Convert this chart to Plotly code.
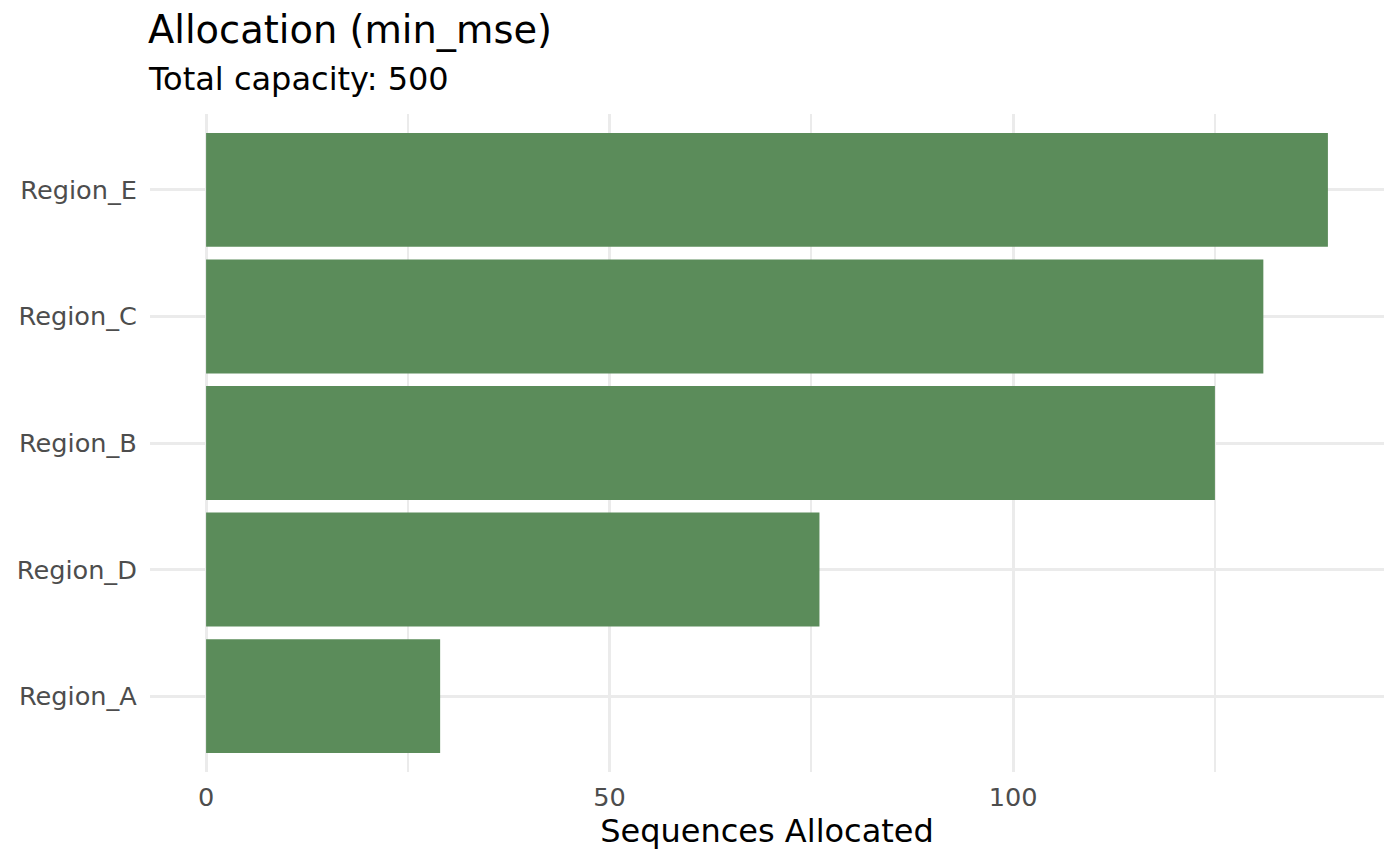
import plotly.graph_objects as go

regions = ["Region_A", "Region_D", "Region_B", "Region_C", "Region_E"]
allocated = [29, 76, 125, 131, 139]

title_text = "Allocation (min_mse)"
subtitle_text = "Total capacity: 500"
x_title = "Sequences Allocated"

bar_color = "#5B8C5A"
grid_color = "#EBEBEB"
font_family = "DejaVu Sans"

# page body has an 8px margin; figure is sized to fill the rest of the window
OFF = 8
W, H = 1400 - OFF, 866 - OFF
ml, mr, mt = 150 - OFF, 16, 114 - OFF
ph = 772 - 114
mb = H - mt - ph

fig = go.Figure(go.Bar(
    x=allocated, y=regions, orientation="h",
    marker=dict(color=bar_color, line=dict(width=0)),
    width=0.9,
))

fig.update_layout(
    width=W, height=H,
    margin=dict(l=ml, r=mr, t=mt, b=mb, pad=0, autoexpand=False),
    plot_bgcolor="white", paper_bgcolor="white",
    font=dict(family=font_family, color="#4D4D4D"),
    showlegend=False,
    bargap=0.1,
)

xmax = max(allocated)
fig.update_xaxes(
    automargin=False,
    range=[-0.05 * xmax, 1.05 * xmax],
    tickmode="array", tickvals=[0, 50, 100], ticktext=["0", "50", "100"],
    showgrid=True, gridcolor=grid_color, gridwidth=2.8,
    minor=dict(tickmode="array", tickvals=[25, 75, 125], showgrid=True, gridcolor=grid_color, gridwidth=1.6),
    zeroline=False, showline=False,
    ticks="outside", ticklen=2, tickcolor="rgba(0,0,0,0)",
    tickfont=dict(size=25.6, color="#4D4D4D", family=font_family),
    title=dict(text=x_title, font=dict(size=32, color="black", family=font_family), standoff=6),
)
fig.update_yaxes(
    automargin=False,
    categoryorder="array", categoryarray=regions,
    range=[-0.6, len(regions) - 0.4],
    showgrid=True, gridcolor=grid_color, gridwidth=2.8,
    zeroline=False, showline=False,
    ticks="outside", ticklen=7, tickcolor="rgba(0,0,0,0)",
    tickfont=dict(size=25.6, color="#4D4D4D", family=font_family),
)

fig.add_annotation(
    text=title_text, xref="paper", yref="paper", x=0, y=1 + (114 - 29) / ph,
    xanchor="left", yanchor="middle", showarrow=False, xshift=-4,
    font=dict(size=38.4, color="black", family=font_family),
)
fig.add_annotation(
    text=subtitle_text, xref="paper", yref="paper", x=0, y=1 + (114 - 79) / ph,
    xanchor="left", yanchor="middle", showarrow=False, xshift=-4,
    font=dict(size=32, color="black", family=font_family),
)

fig.write_html("out.html")
